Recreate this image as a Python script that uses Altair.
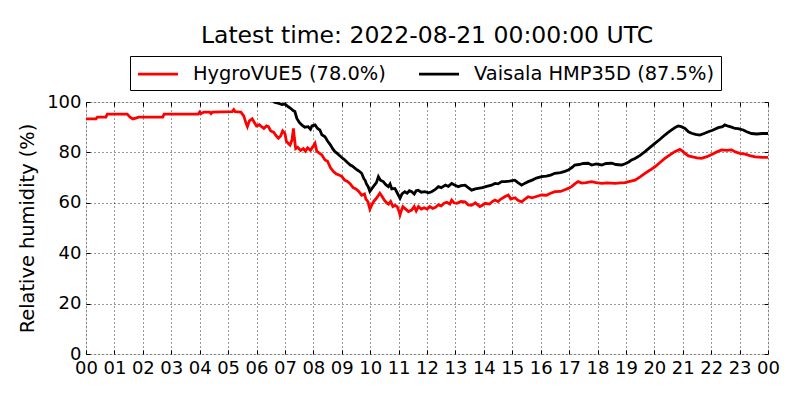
import altair as alt
import pandas as pd

red_name = "HygroVUE5 (78.0%)"
black_name = "Vaisala HMP35D (87.5%)"

red_hours = [0.0, 0.35, 0.4, 0.7, 0.75, 1.45, 1.55, 1.65, 1.75, 1.85, 2.7, 2.75, 3.95, 4.0, 4.05, 4.15,
             4.35, 4.4, 4.45, 5.15, 5.2, 5.25, 5.45, 5.55, 5.62, 5.68, 5.75, 5.85, 5.92, 6.0, 6.1, 6.18,
             6.26, 6.35, 6.42, 6.5, 6.6, 6.7, 6.77, 6.85, 6.92, 7.0, 7.05, 7.12, 7.18, 7.25, 7.3, 7.33,
             7.38, 7.45, 7.55, 7.65, 7.72, 7.8, 7.9, 8.0, 8.06, 8.12, 8.2, 8.3, 8.41, 8.5, 8.6, 8.7,
             8.8, 8.9, 9.0, 9.1, 9.2, 9.3, 9.4, 9.5, 9.6, 9.7, 9.8, 9.85, 9.92, 9.99, 10.05, 10.12,
             10.2, 10.28, 10.34, 10.42, 10.5, 10.58, 10.65, 10.72, 10.8, 10.88, 10.95, 11.02, 11.05, 11.1,
             11.15, 11.25, 11.35, 11.46, 11.55, 11.62, 11.7, 11.8, 11.9, 12.0, 12.1, 12.2, 12.3, 12.4,
             12.5, 12.6, 12.7, 12.8, 12.87, 12.95, 13.05, 13.2, 13.34, 13.45, 13.57, 13.7, 13.86, 13.95,
             14.04, 14.2, 14.3, 14.39, 14.5, 14.6, 14.75, 14.86, 14.95, 15.1, 15.2, 15.33, 15.45, 15.56,
             15.7, 15.85, 16.03, 16.2, 16.35, 16.5, 16.7, 16.85, 16.97, 17.1, 17.2, 17.32, 17.45, 17.6,
             17.79, 17.95, 18.15, 18.35, 18.62, 18.8, 18.97, 19.1, 19.32, 19.5, 19.67, 19.85, 20.02, 20.2,
             20.37, 20.55, 20.72, 20.9, 21.0, 21.08, 21.2, 21.31, 21.5, 21.66, 21.85, 22.02, 22.2, 22.37,
             22.55, 22.72, 22.85, 23.01, 23.2, 23.36, 23.55, 23.8, 24.0]
red_values = [93.3, 93.3, 94.0, 94.0, 95.2, 95.2, 94.0, 93.3, 93.6, 94.0, 94.0, 95.2, 95.2, 96.0, 95.4, 96.0,
              96.0, 95.4, 96.0, 96.2, 97.0, 96.2, 96.0, 94.5, 92.0, 90.2, 92.5, 93.3, 92.0, 90.5, 91.0, 90.2,
              89.5, 90.5, 90.2, 88.5, 88.0, 86.5, 85.6, 86.5, 88.5, 87.5, 84.5, 83.5, 82.9, 85.0, 89.5, 86.0,
              81.5, 82.0, 80.8, 81.5, 80.5, 81.8, 80.8, 82.5, 83.6, 80.5, 79.8, 79.0, 77.0, 76.5, 74.0, 72.5,
              71.5, 71.0, 70.5, 69.0, 68.5, 67.5, 66.0, 65.5, 64.5, 63.0, 63.5, 61.5, 60.5, 57.5, 59.0, 60.5,
              61.5, 62.8, 63.8, 62.5, 61.0, 60.0, 59.5, 60.5, 58.5, 59.0, 58.5, 56.5, 55.2, 57.0,
              58.5, 57.5, 56.5, 57.1, 58.5, 56.8, 58.5, 57.5, 58.0, 57.5, 58.5, 57.8, 58.2, 59.2,
              58.8, 59.8, 60.2, 59.5, 61.1, 60.0, 59.8, 60.5, 60.4, 59.2, 59.0, 60.0, 58.5, 59.0,
              59.8, 59.5, 60.5, 61.1, 60.5, 61.5, 62.5, 63.1, 61.5, 62.0, 61.0, 60.4, 61.5, 62.4,
              62.0, 62.5, 63.1, 63.0, 63.8, 64.4, 64.5, 65.2, 65.7, 66.5, 67.5, 68.4, 67.8, 68.0,
              68.4, 68.0, 67.7, 67.9, 67.7, 67.9, 68.0, 68.4, 69.0, 70.3, 71.7, 73.0, 74.3, 76.0,
              77.6, 79.0, 80.3, 81.2, 80.4, 79.6, 78.6, 78.3, 77.8, 77.6, 78.3, 79.2, 80.2, 81.0,
              80.8, 81.0, 80.2, 79.6, 79.3, 78.7, 78.2, 78.0, 78.0]

black_hours = [6.5, 6.65, 6.76, 6.9, 7.0, 7.12, 7.2, 7.3, 7.35, 7.42, 7.5, 7.59, 7.7, 7.82, 7.9, 7.95,
               8.06, 8.15, 8.23, 8.3, 8.41, 8.5, 8.6, 8.68, 8.76, 8.85, 8.95, 9.05, 9.11, 9.2, 9.3, 9.38,
               9.47, 9.55, 9.62, 9.7, 9.78, 9.82, 9.87, 9.93, 9.99, 10.05, 10.15, 10.22, 10.29, 10.36, 10.46,
               10.55, 10.64, 10.7, 10.76, 10.87, 10.95, 11.05, 11.12, 11.22, 11.3, 11.38, 11.46, 11.55, 11.62,
               11.69, 11.8, 11.93, 12.05, 12.16, 12.28, 12.4, 12.5, 12.65, 12.75, 12.87, 12.95, 13.1, 13.2,
               13.34, 13.45, 13.57, 13.7, 13.8, 13.95, 14.1, 14.27, 14.39, 14.5, 14.63, 14.74, 14.9, 15.09,
               15.2, 15.33, 15.45, 15.56, 15.7, 15.85, 16.03, 16.2, 16.35, 16.5, 16.7, 16.85, 16.97, 17.1,
               17.2, 17.35, 17.5, 17.67, 17.8, 17.95, 18.15, 18.3, 18.5, 18.65, 18.85, 18.97, 19.1, 19.2,
               19.32, 19.5, 19.67, 19.85, 20.02, 20.2, 20.37, 20.5, 20.61, 20.75, 20.84, 20.95, 21.08, 21.2,
               21.31, 21.45, 21.6, 21.75, 21.9, 22.05, 22.25, 22.4, 22.48, 22.6, 22.72, 22.84, 22.95, 23.13,
               23.25, 23.42, 23.6, 23.8, 24.0]
black_values = [101.0, 99.8, 99.5, 99.0, 99.2, 98.1, 97.5, 96.5, 96.2, 93.5, 92.0, 90.9, 90.0, 90.2, 89.2, 90.5,
                90.9, 89.5, 88.9, 87.0, 86.2, 84.5, 83.0, 81.5, 80.3, 79.5, 78.5, 77.5, 77.0, 76.0, 75.0, 74.5,
                73.7, 73.0, 72.5, 71.7, 69.5, 69.0, 67.5, 66.4, 64.5, 65.5, 67.0, 68.0, 70.4, 69.0, 68.4,
                67.2, 66.4, 67.5, 65.5, 65.7, 64.0, 61.8, 63.5, 64.4, 63.8, 64.8, 64.4, 63.5, 64.8,
                65.0, 64.2, 64.4, 64.0, 64.4, 65.2, 66.4, 66.0, 67.0, 66.5, 67.7, 67.2, 66.4, 66.8,
                67.0, 66.0, 65.0, 65.5, 65.7, 66.0, 66.5, 67.0, 67.7, 67.5, 68.4, 68.4, 68.6, 69.0,
                68.0, 67.0, 67.8, 68.4, 69.0, 69.8, 70.4, 70.6, 71.0, 71.7, 72.0, 72.5, 73.0, 74.0,
                75.0, 75.2, 75.6, 75.7, 75.0, 75.4, 75.0, 75.6, 75.7, 75.2, 75.0, 75.5, 76.2, 77.0,
                77.6, 78.8, 80.3, 82.0, 83.6, 85.2, 86.9, 88.0, 88.9, 90.0, 90.5, 90.2, 89.5, 88.2,
                87.6, 87.2, 86.9, 87.5, 88.2, 88.8, 89.8, 90.2, 90.9, 90.4, 90.0, 89.5, 89.4, 88.9,
                88.2, 87.5, 87.3, 87.5, 87.5]

df = pd.concat([
    pd.DataFrame({"hour": red_hours, "rh": red_values, "series": red_name, "order": 0}),
    pd.DataFrame({"hour": black_hours, "rh": black_values, "series": black_name, "order": 1}),
])

FONT = "DejaVu Sans"
W, H = 682, 252

xscale = alt.Scale(domain=[0, 24], nice=False, zero=False)
yscale = alt.Scale(domain=[0, 100], nice=False)
label_expr = "datum.value >= 24 ? '00' : (datum.value < 10 ? '0' + datum.value : '' + datum.value)"

main_x_axis = alt.Axis(values=list(range(0, 25)), labelExpr=label_expr, title=None, grid=True,
                       gridColor="black", gridDash=[1, 3], gridWidth=0.8, gridOpacity=1,
                       ticks=False, domain=False, labelFont=FONT, labelFontSize=18, labelColor="black",
                       labelPadding=5, labelFlush=False, labelOverlap=False)
main_y_axis = alt.Axis(values=[0, 20, 40, 60, 80, 100], title="Relative humidity (%)", grid=True,
                       gridColor="black", gridDash=[1, 3], gridWidth=0.8, gridOpacity=1,
                       ticks=False, domain=False, labelFont=FONT, labelFontSize=18, labelColor="black",
                       labelPadding=5, titleFont=FONT, titleFontSize=19.4, titleFontWeight="normal",
                       titleColor="black", titlePadding=9, labelFlush=False)

lines = alt.Chart(df).mark_line(strokeWidth=2.8, clip=True).encode(
    x=alt.X("hour:Q", scale=xscale, axis=main_x_axis),
    y=alt.Y("rh:Q", scale=yscale, axis=main_y_axis),
    color=alt.Color("series:N",
                    scale=alt.Scale(domain=[red_name, black_name], range=["#ff0000", "#000000"]),
                    legend=alt.Legend(orient="none", legendX=44, legendY=-46, direction="horizontal",
                                      title=None, symbolType="M-1,0H3", symbolSize=400,
                                      symbolStrokeWidth=2.8, labelFont=FONT, labelFontSize=19.4,
                                      labelColor="black", labelLimit=400, strokeColor="black",
                                      fillColor="white", padding=6.5, columnPadding=26,
                                      labelOffset=33.5, cornerRadius=0)),
    order="order:Q",
)


def tick_layer(xorient, xoffset, yorient, yoffset):
    xa = alt.Axis(orient=xorient, offset=xoffset, values=list(range(0, 25)), labels=False, grid=False,
                  domain=False, ticks=True, tickSize=4, tickColor="black", tickWidth=1, title=None)
    ya = alt.Axis(orient=yorient, offset=yoffset, values=[0, 20, 40, 60, 80, 100], labels=False,
                  grid=False, domain=False, ticks=True, tickSize=4, tickColor="black", tickWidth=1,
                  title=None)
    return alt.Chart(df).mark_line(opacity=0).encode(
        x=alt.X("hour:Q", scale=xscale, axis=xa),
        y=alt.Y("rh:Q", scale=yscale, axis=ya),
        detail="series:N",
    )


chart = alt.layer(
    lines,
    tick_layer("top", -H, "right", -W),
    tick_layer("bottom", -H, "left", -W),
).resolve_axis(x="independent", y="independent").properties(
    width=W, height=H,
    title=alt.TitleParams("Latest time: 2022-08-21 00:00:00 UTC", font=FONT, fontSize=23.5,
                          fontWeight="normal", color="black", anchor="middle", frame="group", offset=8),
    autosize=alt.AutoSizeParams(type="none"),
    padding={"left": 78, "top": 94, "right": 24, "bottom": 38},
).configure_view(stroke="black", strokeWidth=1.5).configure(background="white")

chart.save("out.html", embed_options={"renderer": "svg", "actions": False})
